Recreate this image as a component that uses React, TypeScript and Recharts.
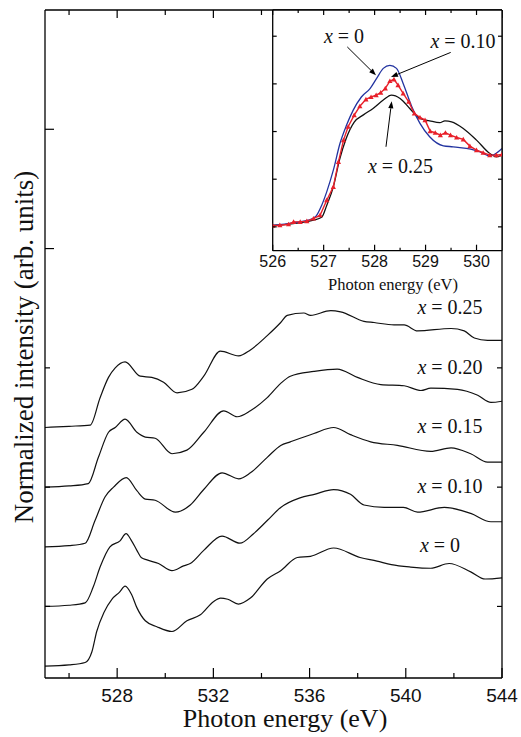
import React from 'react';
import { LineChart, Line, XAxis, YAxis, ReferenceLine } from 'recharts';

const W = 521;
const H = 737;
const serif = '"Liberation Serif", "Times New Roman", serif';
const sans = '"Liberation Sans", Arial, sans-serif';

// ---- main panel: O K-edge spectra, offset vertically ----
const compositions = ['0', '0.10', '0.15', '0.20', '0.25'];
const offsets = [0.5, 1.0, 1.5, 2.0, 2.5];

const energyX0 = [525, 526, 526.67, 526.95, 527.15, 527.45, 527.78, 528.1, 528.33, 528.6, 528.82, 529.17, 529.65, 530.28, 530.9, 531.46, 532.0, 532.3, 532.6, 533.04, 533.54, 534.24, 534.8, 535.49, 536.04, 537.0, 538.1, 538.8, 539.4, 540.2, 541.04, 541.8, 542.7, 543.3, 544];
const intensityX0 = [0, 0.01, 0.03, 0.12, 0.29, 0.45, 0.56, 0.62, 0.67, 0.6, 0.49, 0.38, 0.33, 0.29, 0.38, 0.43, 0.54, 0.57, 0.56, 0.52, 0.57, 0.73, 0.8, 0.91, 0.92, 0.99, 0.91, 0.88, 0.85, 0.83, 0.82, 0.86, 0.79, 0.73, 0.74];

const energyX10 = [525, 526, 526.67, 527.0, 527.29, 527.7, 528.12, 528.37, 528.6, 528.82, 529.0, 529.24, 529.72, 530.28, 530.76, 531.04, 531.6, 532.36, 533.1, 533.67, 534.24, 534.8, 535.6, 536.2, 537.0, 537.7, 538.26, 539.1, 539.9, 540.49, 541.6, 542.7, 543.54, 544];
const intensityX10 = [0, 0.01, 0.03, 0.16, 0.33, 0.5, 0.55, 0.61, 0.55, 0.47, 0.41, 0.39, 0.36, 0.3, 0.34, 0.36, 0.47, 0.59, 0.53, 0.61, 0.72, 0.83, 0.91, 0.94, 0.98, 0.94, 0.85, 0.83, 0.83, 0.79, 0.83, 0.78, 0.71, 0.71];

const energyX15 = [525, 526, 526.67, 527.08, 527.5, 527.85, 528.38, 528.82, 529.17, 529.58, 530.42, 531.04, 531.6, 532.36, 533.05, 533.54, 534.24, 534.8, 535.2, 536.18, 537.0, 537.7, 538.54, 539.65, 541.04, 541.88, 542.7, 543.4, 544];
const intensityX15 = [0, 0.01, 0.03, 0.22, 0.42, 0.5, 0.58, 0.47, 0.4, 0.39, 0.29, 0.35, 0.48, 0.62, 0.57, 0.62, 0.75, 0.85, 0.88, 0.95, 1.0, 0.94, 0.88, 0.85, 0.8, 0.83, 0.78, 0.71, 0.71];

const energyX20 = [525, 526, 526.8, 527.22, 527.64, 527.92, 528.33, 528.82, 529.17, 529.58, 530.28, 530.9, 531.6, 532.43, 532.99, 533.54, 534.24, 534.8, 535.2, 536.18, 537.15, 537.99, 538.96, 539.93, 540.63, 541.04, 542.15, 542.99, 543.54, 544];
const intensityX20 = [0, 0.01, 0.03, 0.25, 0.46, 0.5, 0.57, 0.46, 0.42, 0.41, 0.28, 0.31, 0.46, 0.64, 0.59, 0.64, 0.75, 0.87, 0.93, 0.97, 0.99, 0.92, 0.86, 0.85, 0.81, 0.83, 0.82, 0.77, 0.71, 0.72];

const energyX25 = [525, 526, 526.88, 527.29, 527.64, 527.92, 528.33, 528.96, 529.44, 529.93, 530.49, 531.11, 531.6, 532.29, 533.05, 533.54, 534.24, 534.8, 535.07, 535.76, 536.04, 536.88, 537.29, 538.26, 538.68, 539.51, 539.93, 540.49, 541.88, 542.43, 542.85, 543.4, 544];
const intensityX25 = [0, 0.01, 0.02, 0.25, 0.42, 0.5, 0.55, 0.43, 0.42, 0.38, 0.29, 0.32, 0.43, 0.64, 0.6, 0.65, 0.77, 0.88, 0.94, 0.96, 0.94, 0.98, 0.97, 0.89, 0.88, 0.86, 0.86, 0.81, 0.83, 0.81, 0.75, 0.73, 0.73];

const mainTicksX = [526, 528, 530, 532, 534, 536, 538, 540, 542, 544];
const mainLabelsX = [528, 532, 536, 540, 544];
const mainTicksY = [1, 2, 3, 4, 5];

// ---- inset: pre-edge region ----
const insetBlueE = [526, 526.4, 526.7, 526.85, 526.96, 527.06, 527.19, 527.32, 527.45, 527.58, 527.74, 527.91, 528.04, 528.17, 528.3, 528.43, 528.56, 528.73, 528.89, 529.08, 529.35, 529.54, 529.8, 530.07, 530.26, 530.36, 530.5];
const insetBlueV = [0.006, 0.017, 0.028, 0.045, 0.09, 0.147, 0.238, 0.35, 0.427, 0.49, 0.545, 0.58, 0.623, 0.665, 0.678, 0.665, 0.602, 0.504, 0.434, 0.378, 0.34, 0.336, 0.329, 0.315, 0.297, 0.305, 0.329];

const insetBlackE = [526, 526.4, 526.8, 526.96, 527.06, 527.19, 527.31, 527.44, 527.6, 527.78, 527.97, 528.17, 528.33, 528.5, 528.69, 528.89, 529.08, 529.28, 529.38, 529.51, 529.74, 530.0, 530.26, 530.39, 530.5];
const insetBlackV = [0.006, 0.014, 0.028, 0.04, 0.09, 0.168, 0.28, 0.37, 0.44, 0.47, 0.497, 0.532, 0.553, 0.539, 0.497, 0.455, 0.445, 0.437, 0.445, 0.441, 0.413, 0.364, 0.308, 0.294, 0.301];

const insetRedE = [526.0, 526.14, 526.31, 526.41, 526.54, 526.67, 526.8, 526.93, 527.06, 527.19, 527.29, 527.39, 527.48, 527.6, 527.71, 527.83, 527.93, 528.03, 528.12, 528.21, 528.3, 528.38, 528.46, 528.56, 528.67, 528.78, 528.89, 528.99, 529.09, 529.19, 529.29, 529.39, 529.49, 529.61, 529.74, 529.87, 530.0, 530.13, 530.26, 530.39, 530.5];
const insetRedV = [0.005, 0.007, 0.011, 0.021, 0.021, 0.024, 0.035, 0.049, 0.112, 0.168, 0.273, 0.364, 0.42, 0.469, 0.506, 0.535, 0.545, 0.553, 0.563, 0.581, 0.612, 0.619, 0.595, 0.56, 0.525, 0.476, 0.459, 0.448, 0.402, 0.395, 0.385, 0.395, 0.385, 0.375, 0.367, 0.339, 0.322, 0.311, 0.301, 0.301, 0.304];

const insetTicksX = [526, 526.5, 527, 527.5, 528, 528.5, 529, 529.5, 530];
const insetTicksY = [0, 0.2, 0.4, 0.6, 0.8];

// arrows from labels to curves: [tailE, tailV, headE, headV]
const insetArrows = [
  [527.464, 0.755, 528.027, 0.636],
  [529.493, 0.732, 528.321, 0.629],
  [528.223, 0.336, 528.335, 0.527],
];

const toPoints = (e: number[], v: number[], off = 0) => e.map((x, i) => ({ e: x, v: v[i] + off }));

const spectra = [
  toPoints(energyX0, intensityX0, offsets[0]),
  toPoints(energyX10, intensityX10, offsets[1]),
  toPoints(energyX15, intensityX15, offsets[2]),
  toPoints(energyX20, intensityX20, offsets[3]),
  toPoints(energyX25, intensityX25, offsets[4]),
];

type Side = 'bottom' | 'top' | 'left' | 'right';

function makeTick(side: Side, isMajor: (v: number) => boolean, majLen: number, minLen: number, label?: { show: (v: number) => boolean; size: number; dy: number }) {
  return (props: any) => {
    const { x, y, payload } = props;
    const val = payload.value;
    const len = isMajor(val) ? majLen : minLen;
    let x2 = x, y2 = y;
    if (side === 'bottom') y2 = y - len;
    if (side === 'top') y2 = y + len;
    if (side === 'left') x2 = x + len;
    if (side === 'right') x2 = x - len;
    return (
      <g>
        <line x1={x} y1={y} x2={x2} y2={y2} stroke="#000" strokeWidth={1.2} />
        {label && label.show(val) ? (
          <text x={x} y={y + label.dy} textAnchor="middle" fontFamily={sans} fontSize={label.size} fill="#111">
            {val}
          </text>
        ) : null}
      </g>
    );
  };
}

const axisLine = { stroke: '#000', strokeWidth: 1.3 };

const Triangle = (props: any) => {
  const { cx, cy, index } = props;
  if (cx == null || cy == null) return <g key={index} />;
  const s = 2.6;
  return <path key={index} d={`M${cx},${cy - s} L${cx + s},${cy + s * 0.8} L${cx - s},${cy + s * 0.8} Z`} fill="#e8202a" />;
};

const ArrowShape = (props: any) => {
  const { x1, y1, x2, y2 } = props;
  const ang = Math.atan2(y2 - y1, x2 - x1);
  const L = 7, w = 2.6;
  const bx = x2 - L * Math.cos(ang);
  const by = y2 - L * Math.sin(ang);
  const px = -Math.sin(ang) * w;
  const py = Math.cos(ang) * w;
  return (
    <g>
      <line x1={x1} y1={y1} x2={bx} y2={by} stroke="#000" strokeWidth={1} />
      <path d={`M${x2},${y2} L${bx + px},${by + py} L${bx - px},${by - py} Z`} fill="#000" />
    </g>
  );
};

const Lbl = ({ x, y, val, size = 20 }: { x: number; y: number; val: string; size?: number }) => (
  <text x={x} y={y} textAnchor="middle" fontFamily={serif} fontSize={size} fill="#111">
    <tspan fontStyle="italic">x</tspan> = {val}
  </text>
);

export default function App() {
  const isMainMajorX = (v: number) => mainLabelsX.includes(v);
  return (
    <div style={{ position: 'absolute', left: 0, top: 0, width: W, height: H, background: '#fff' }}>
      <div style={{ position: 'absolute', left: 0, top: 0 }}>
        <LineChart width={W} height={H} margin={{ top: 9, right: 18, bottom: 29, left: 44 }}>
          <XAxis xAxisId="b" type="number" dataKey="e" domain={[525, 544]} allowDataOverflow ticks={mainTicksX} interval={0}
            height={30} axisLine={axisLine} tickLine={false} tickSize={0} tickMargin={0}
            tick={makeTick('bottom', isMainMajorX, 10, 5, { show: isMainMajorX, size: 19, dy: 23.5 })} />
          <XAxis xAxisId="t" orientation="top" type="number" dataKey="e" domain={[525, 544]} allowDataOverflow ticks={mainTicksX} interval={0}
            height={1} axisLine={axisLine} tickLine={false} tickSize={0} tickMargin={0}
            tick={makeTick('top', isMainMajorX, 8, 5)} />
          <YAxis yAxisId="l" type="number" domain={[0.4, 6]} allowDataOverflow ticks={mainTicksY} interval={0}
            width={1} axisLine={axisLine} tickLine={false} tickSize={0} tickMargin={0}
            tick={makeTick('left', (v) => v >= 4, 9, 5)} />
          <YAxis yAxisId="r" orientation="right" type="number" domain={[0.4, 6]} allowDataOverflow ticks={mainTicksY} interval={0}
            width={1} axisLine={axisLine} tickLine={false} tickSize={0} tickMargin={0}
            tick={makeTick('right', (v) => v >= 4, 9, 5)} />
          {spectra.map((d, i) => (
            <Line key={compositions[i]} xAxisId="b" yAxisId="l" data={d} dataKey="v" type="monotone"
              stroke="#111" strokeWidth={1.2} dot={false} isAnimationActive={false} />
          ))}
        </LineChart>
      </div>

      <div style={{ position: 'absolute', left: 273, top: 10, width: 229, height: 241, background: '#fff' }} />

      <div style={{ position: 'absolute', left: 0, top: 0 }}>
        <LineChart width={W} height={300} margin={{ top: 9, right: 18, bottom: 19.3, left: 271.7 }}>
          <XAxis xAxisId="b" type="number" dataKey="e" domain={[526, 530.5]} allowDataOverflow ticks={insetTicksX} interval={0}
            height={30} axisLine={axisLine} tickLine={false} tickSize={0} tickMargin={0}
            tick={makeTick('bottom', (v) => Number.isInteger(v), 6, 3, { show: (v) => Number.isInteger(v), size: 16, dy: 16 })} />
          <XAxis xAxisId="t" orientation="top" type="number" dataKey="e" domain={[526, 530.5]} allowDataOverflow ticks={insetTicksX} interval={0}
            height={1} axisLine={axisLine} tickLine={false} tickSize={0} tickMargin={0}
            tick={makeTick('top', (v) => Number.isInteger(v), 5, 3)} />
          <YAxis yAxisId="l" type="number" domain={[-0.1, 0.91]} allowDataOverflow ticks={insetTicksY} interval={0}
            width={1} axisLine={axisLine} tickLine={false} tickSize={0} tickMargin={0}
            tick={makeTick('left', () => true, 4, 4)} />
          <YAxis yAxisId="r" orientation="right" type="number" domain={[-0.1, 0.91]} allowDataOverflow ticks={insetTicksY} interval={0}
            width={1} axisLine={axisLine} tickLine={false} tickSize={0} tickMargin={0}
            tick={makeTick('right', () => true, 4, 4)} />
          <Line xAxisId="b" yAxisId="l" data={toPoints(insetBlackE, insetBlackV)} dataKey="v" type="monotone"
            stroke="#111" strokeWidth={1.3} dot={false} isAnimationActive={false} />
          <Line xAxisId="b" yAxisId="l" data={toPoints(insetBlueE, insetBlueV)} dataKey="v" type="monotone"
            stroke="#2233a0" strokeWidth={1.3} dot={false} isAnimationActive={false} />
          <Line xAxisId="b" yAxisId="l" data={toPoints(insetRedE, insetRedV)} dataKey="v" type="linear"
            stroke="#e8202a" strokeWidth={1.4} dot={Triangle} isAnimationActive={false} />
          {insetArrows.map((a, i) => (
            <ReferenceLine key={i} xAxisId="b" yAxisId="l" segment={[{ x: a[0], y: a[1] }, { x: a[2], y: a[3] }]}
              shape={ArrowShape} ifOverflow="visible" />
          ))}
        </LineChart>
      </div>

      <svg width={W} height={H} style={{ position: 'absolute', left: 0, top: 0, pointerEvents: 'none' }}>
        <text x={33} y={347} transform="rotate(-90 33 347)" textAnchor="middle" fontFamily={serif} fontSize={27} fill="#111">
          Normalized intensity (arb. units)
        </text>
        <text x={285} y={727} textAnchor="middle" fontFamily={serif} fontSize={26} fill="#111">
          Photon energy (eV)
        </text>
        <text x={393} y={290} textAnchor="middle" fontFamily={serif} fontSize={16.5} fill="#111">
          Photon energy (eV)
        </text>
        <Lbl x={450} y={314} val="0.25" />
        <Lbl x={450} y={373.5} val="0.20" />
        <Lbl x={450} y={433} val="0.15" />
        <Lbl x={450} y={492.5} val="0.10" />
        <Lbl x={440} y={552} val="0" />
        <Lbl x={344} y={43.3} val="0" />
        <Lbl x={463} y={48.3} val="0.10" />
        <Lbl x={400.5} y={173} val="0.25" />
      </svg>
    </div>
  );
}
